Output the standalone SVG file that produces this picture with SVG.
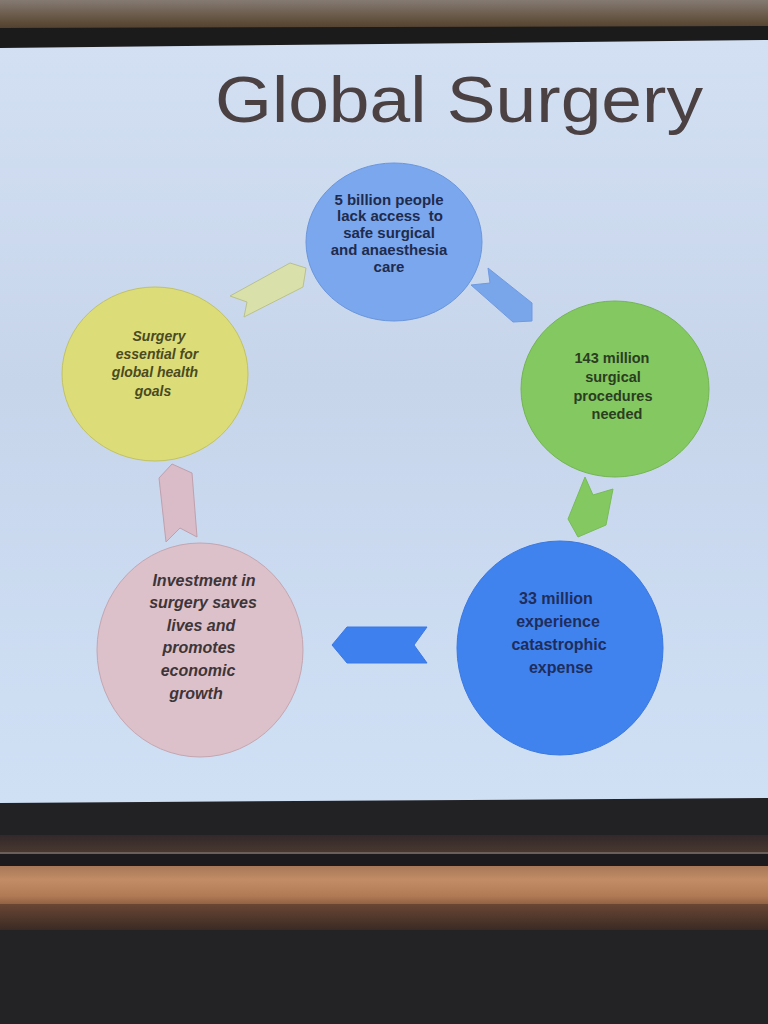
<svg xmlns="http://www.w3.org/2000/svg" width="768" height="1024" viewBox="0 0 768 1024">
<defs>
<linearGradient id="topg" x1="0" y1="0" x2="0" y2="1">
<stop offset="0" stop-color="#857a73"/>
<stop offset="0.7" stop-color="#5e4c38"/>
<stop offset="1" stop-color="#4a3a2c"/>
</linearGradient>
<linearGradient id="slideg" x1="0" y1="0" x2="0" y2="1">
<stop offset="0" stop-color="#d3e0f3"/>
<stop offset="0.45" stop-color="#c7d5eb"/>
<stop offset="1" stop-color="#cfe0f5"/>
</linearGradient>
<linearGradient id="woodg" x1="0" y1="0" x2="0" y2="1">
<stop offset="0" stop-color="#a87858"/>
<stop offset="0.35" stop-color="#c28d66"/>
<stop offset="0.75" stop-color="#b07a55"/>
<stop offset="1" stop-color="#8a5c40"/>
</linearGradient>
<linearGradient id="lowg" x1="0" y1="0" x2="0" y2="1">
<stop offset="0" stop-color="#6a4634"/>
<stop offset="1" stop-color="#3a2a24"/>
</linearGradient>
<linearGradient id="bandg" x1="0" y1="0" x2="0" y2="1">
<stop offset="0" stop-color="#33282a"/>
<stop offset="1" stop-color="#4a3a30"/>
</linearGradient>
<style>
.lbl{font-family:"Liberation Sans",Arial,sans-serif;font-weight:bold;text-anchor:middle}
.it{font-style:italic}
.circ{stroke-width:1}
</style>
</defs>
<rect x="0" y="0" width="768" height="1024" fill="#222124"/>
<rect x="0" y="0" width="768" height="32" fill="url(#topg)"/>
<polygon points="0,28 768,26 768,42 0,50" fill="#1b1b1c"/>
<polygon points="0,48 768,40 768,798 0,803" fill="url(#slideg)"/>
<rect x="0" y="835" width="768" height="19" fill="url(#bandg)"/>
<rect x="0" y="852" width="768" height="2" fill="#6b5f5a"/>
<rect x="0" y="854" width="768" height="12" fill="#1c1a1d"/>
<rect x="0" y="866" width="768" height="40" fill="url(#woodg)"/>
<rect x="0" y="904" width="768" height="26" fill="url(#lowg)"/>
<rect x="0" y="930" width="768" height="94" fill="#232225"/>
<g id="title">
<text x="215" y="122" font-family="'Liberation Sans',Arial,sans-serif" font-size="64" fill="#4b4142" textLength="488" lengthAdjust="spacingAndGlyphs">Global Surgery</text>
</g>
<g id="connectors" stroke-width="1">
<polygon points="230,296 290,263 306,268 303,287 244,317 247,302" fill="#d9e0aa" stroke="#b9c08e"/>
<polygon points="488,268 532,303 532,321 513,322 471,285 490,283" fill="#79a5ea" stroke="#6f9ae0"/>
<polygon points="585,477 593,495 613,489 606,525 578,537 568,519" fill="#84c862" stroke="#78bb58"/>
<polygon points="347,627 427,627 414,645 427,663 347,663 332,645" fill="#3f80ef" stroke="#3a78e4"/>
<polygon points="172,464 192,473 197,537 180,528 166,542 159,478" fill="#d9bcc8" stroke="#bfa0ad"/>
</g>
<g id="node-access">
<ellipse class="circ" cx="394" cy="242" rx="88" ry="79" fill="#7aa7ee" stroke="#6a96dc"/>
<text class="lbl" font-size="15" fill="#1f2b4d" xml:space="preserve"><tspan x="389" y="205">5 billion people</tspan><tspan x="390" y="221">lack access  to</tspan><tspan x="389" y="238">safe surgical</tspan><tspan x="389" y="255">and anaesthesia</tspan><tspan x="389" y="272">care</tspan></text>
</g>
<g id="node-procedures">
<ellipse class="circ" cx="615" cy="389" rx="94" ry="88" fill="#84c862" stroke="#74b552"/>
<text class="lbl" font-size="14.5" fill="#2b3d1f"><tspan x="612" y="363">143 million</tspan><tspan x="613" y="382">surgical</tspan><tspan x="613" y="401">procedures</tspan><tspan x="617" y="419">needed</tspan></text>
</g>
<g id="node-expense">
<ellipse class="circ" cx="560" cy="648" rx="103" ry="107" fill="#4083ef" stroke="#3a78e0"/>
<text class="lbl" font-size="16" fill="#1f2d5c"><tspan x="556" y="604">33 million</tspan><tspan x="558" y="627">experience</tspan><tspan x="559" y="650">catastrophic</tspan><tspan x="561" y="673">expense</tspan></text>
</g>
<g id="node-investment">
<ellipse class="circ" cx="200" cy="650" rx="103" ry="107" fill="#dcc1ca" stroke="#c4a6b1"/>
<text class="lbl it" font-size="16" fill="#3e3538"><tspan x="204" y="586">Investment in</tspan><tspan x="203" y="608">surgery saves</tspan><tspan x="201" y="631">lives and</tspan><tspan x="199" y="653">promotes</tspan><tspan x="198" y="676">economic</tspan><tspan x="196" y="699">growth</tspan></text>
</g>
<g id="node-goals">
<ellipse class="circ" cx="155" cy="374" rx="93" ry="87" fill="#dcdc78" stroke="#c2c262"/>
<text class="lbl it" font-size="14" fill="#4a4a22"><tspan x="159" y="341">Surgery</tspan><tspan x="157" y="359">essential for</tspan><tspan x="155" y="377">global health</tspan><tspan x="153" y="396">goals</tspan></text>
</g>
</svg>
